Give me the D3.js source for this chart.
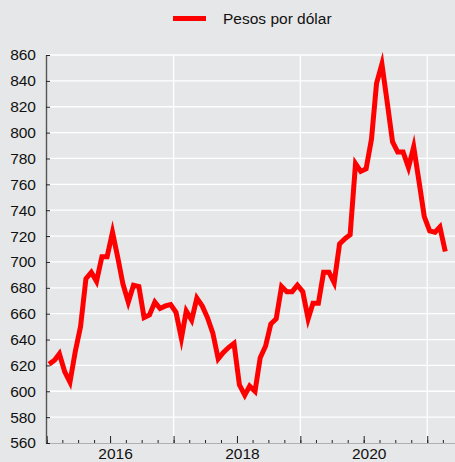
<!DOCTYPE html>
<html>
<head>
<meta charset="utf-8">
<title>Pesos por dólar</title>
<script src="https://cdnjs.cloudflare.com/ajax/libs/d3/7.8.5/d3.min.js"></script>
<style>
  body { margin: 0; background: #e6e7e8; }
  svg { display: block; font-family: "Liberation Sans", Arial, sans-serif; }
</style>
</head>
<body>
<div id="chart"></div>
<script>
// monthly values, Jan..Dec (2021 stops at April)
const v2015 = [621, 624, 629, 615, 607, 631, 650, 687, 692, 685, 704, 704];
const v2016 = [723, 703, 683, 669, 682, 681, 657, 659, 669, 664, 666, 667];
const v2017 = [661, 641, 662, 655, 672, 666, 657, 645, 625, 630, 634, 637];
const v2018 = [605, 597, 604, 600, 626, 635, 652, 656, 681, 677, 677, 682];
const v2019 = [677, 656, 668, 668, 692, 692, 684, 714, 718, 721, 776, 770];
const v2020 = [772, 795, 838, 853, 824, 793, 785, 785, 773, 789, 762, 735];
const v2021 = [724, 723, 727, 708];

const years = [2015, 2016, 2017, 2018, 2019, 2020, 2021];
const labelYears = [2016, 2018, 2020];
const gridYears = [2017, 2019, 2021];
const yTicks = [560, 580, 600, 620, 640, 660, 680, 700, 720, 740, 760, 780, 800, 820, 840, 860];
const seriesName = "Pesos por dólar";

const byYear = [v2015, v2016, v2017, v2018, v2019, v2020, v2021];
const data = [];
byYear.forEach((arr, i) => {
    arr.forEach((v, m) => data.push({ date: new Date(years[i], m, 15), value: v }));
});

const width = 455, height = 462;
const margin = { left: 46, right: 455, top: 55, bottom: 443 };

const svg = d3.select("#chart").append("svg")
    .attr("width", width)
    .attr("height", height);

svg.append("rect")
    .attr("width", width).attr("height", height)
    .attr("fill", "#e6e7e8");

const x = d3.scaleTime()
    .domain([new Date(2015, 0, 1), new Date(2021, 5, 10)])
    .range([margin.left + 0.7, margin.right]);

const y = d3.scaleLinear()
    .domain([560, 860])
    .range([margin.bottom, margin.top]);

// gridlines
svg.append("g").selectAll("line")
    .data(yTicks.filter(d => d > 560))
    .enter().append("line")
    .attr("x1", margin.left).attr("x2", margin.right)
    .attr("y1", d => y(d)).attr("y2", d => y(d))
    .attr("stroke", "#fff").attr("stroke-width", 1.3);

svg.append("g").selectAll("line")
    .data(gridYears)
    .enter().append("line")
    .attr("x1", d => x(new Date(d, 0, 1))).attr("x2", d => x(new Date(d, 0, 1)))
    .attr("y1", margin.top).attr("y2", margin.bottom)
    .attr("stroke", "#fff").attr("stroke-width", 1.3);

// bottom axis: quarter ticks, then year ticks with labels
const xMinor = svg.append("g")
    .attr("transform", `translate(0,${margin.bottom})`)
    .call(d3.axisBottom(x)
        .ticks(d3.timeMonth.every(3))
        .tickSizeInner(-3).tickSizeOuter(0)
        .tickFormat(""));
xMinor.select(".domain").attr("stroke", "#b0b0b0");
xMinor.selectAll(".tick line").attr("stroke", "#222");

const xMajor = svg.append("g")
    .attr("transform", `translate(0,${margin.bottom})`)
    .call(d3.axisBottom(x)
        .tickValues(years.map(d => new Date(d, 0, 1)))
        .tickSizeInner(-7).tickSizeOuter(0)
        .tickPadding(5)
        .tickFormat(d => labelYears.includes(d.getFullYear()) ? d.getFullYear() : ""));
xMajor.select(".domain").remove();
xMajor.selectAll(".tick line").attr("stroke", "#222");
xMajor.selectAll(".tick text")
    .attr("dx", 5)
    .attr("fill", "#111")
    .style("font-size", "15.5px");

// left axis
const yAxis = svg.append("g")
    .attr("transform", `translate(${margin.left},0)`)
    .call(d3.axisLeft(y)
        .tickValues(yTicks)
        .tickSizeInner(-4).tickSizeOuter(0)
        .tickPadding(10));
yAxis.select(".domain").attr("stroke", "#555").attr("stroke-width", 1.4);
yAxis.selectAll(".tick line").attr("stroke", "#222");
yAxis.selectAll(".tick text")
    .attr("fill", "#111")
    .style("font-size", "15.5px");

// series line
const line = d3.line()
    .x(d => x(d.date))
    .y(d => y(d.value));

svg.append("path")
    .datum(data)
    .attr("d", line)
    .attr("fill", "none")
    .attr("stroke", "#ff0000")
    .attr("stroke-width", 5)
    .attr("stroke-linejoin", "miter")
    .attr("stroke-miterlimit", 10);

// legend
const legend = svg.append("g");
legend.append("line")
    .attr("x1", 173).attr("x2", 206)
    .attr("y1", 18.5).attr("y2", 18.5)
    .attr("stroke", "#ff0000").attr("stroke-width", 5);
legend.append("text")
    .attr("x", 223).attr("y", 24)
    .attr("fill", "#111")
    .style("font-size", "15.5px")
    .text(seriesName);
</script>
</body>
</html>
